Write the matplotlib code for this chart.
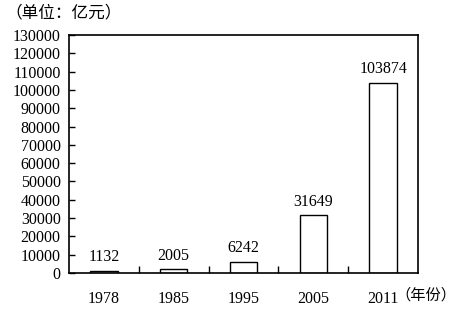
import numpy as np
import matplotlib.pyplot as plt

years = ["1978", "1985", "1995", "2005", "2011"]
values = [1132, 2005, 6242, 31649, 103874]

plt.rcParams['font.family'] = ['Liberation Serif', 'Noto Sans CJK SC']

fig = plt.figure(figsize=(4.59, 3.09), dpi=100)
ax = fig.add_axes([69/459, 1-273/309, 349/459, 238/309])

x = np.arange(len(years))
ax.bar(x, values, width=0.39, facecolor='white', edgecolor='black', linewidth=1)
for xi, v in zip(x, values):
    ax.annotate(str(v), (xi, v), xytext=(0, 4), textcoords='offset points',
                ha='center', va='bottom', fontsize=11.5)

ax.set_xlim(-0.5, len(years) - 0.5)
ax.set_ylim(0, 130000)
ax.set_yticks(np.arange(0, 130001, 10000))
ax.set_xticks(x)
ax.set_xticklabels(years, fontsize=11.5)
ax.set_xticks(np.arange(0.5, len(years) - 1, 1), minor=True)
ax.tick_params(axis='x', which='major', length=0, pad=13)
ax.tick_params(axis='x', which='minor', direction='in', length=5, width=1)
ax.tick_params(axis='y', direction='in', length=4, width=1, labelsize=11.5, pad=6)
for s in ax.spines.values():
    s.set_linewidth(1.2)

fig.text(5/459, 1-13/309, "（单位：亿元）", fontsize=12, family='Noto Sans CJK SC', va='center')
fig.text(456/459, 1-295/309, "（年份）", fontsize=11, family='Noto Sans CJK SC',
         va='center', ha='right')

fig.savefig("out.png", dpi=100)
